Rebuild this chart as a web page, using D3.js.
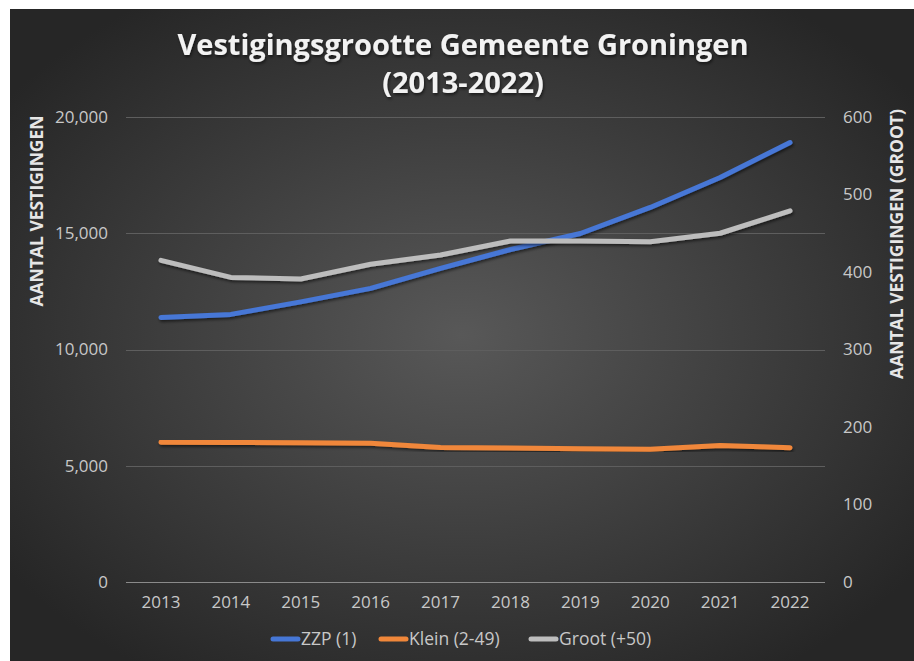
<!DOCTYPE html>
<html>
<head>
<meta charset="utf-8">
<script src="https://cdn.jsdelivr.net/npm/d3@7"></script>
<style>
  html, body { margin: 0; padding: 0; background: #ffffff; }
  svg { display: block; }
</style>
</head>
<body>
<div id="chart"></div>
<script>
// data
var years = ["2013", "2014", "2015", "2016", "2017", "2018", "2019", "2020", "2021", "2022"];
var zzp = [11380, 11510, 12050, 12630, 13490, 14300, 14990, 16110, 17400, 18900];
var klein = [6010, 6000, 5990, 5970, 5780, 5760, 5730, 5705, 5875, 5775];
var groot = [415, 393, 391, 410, 422, 440, 440, 439, 450, 479];
var leftTicks = [0, 5000, 10000, 15000, 20000];
var rightTicks = [0, 100, 200, 300, 400, 500, 600];

var width = 914, height = 661;

var svg = d3.select("#chart")
    .append("svg")
    .attr("width", width)
    .attr("height", height);

var defs = svg.append("defs");

var grad = defs.append("radialGradient")
    .attr("id", "bg")
    .attr("cx", "50%")
    .attr("cy", "50%")
    .attr("r", "62%");
grad.append("stop").attr("offset", "0%").attr("stop-color", "#585858");
grad.append("stop").attr("offset", "100%").attr("stop-color", "#262626");

var shadow = defs.append("filter")
    .attr("id", "shadow")
    .attr("x", "-10%").attr("y", "-30%")
    .attr("width", "120%").attr("height", "160%");
shadow.append("feDropShadow")
    .attr("dx", 1).attr("dy", 2)
    .attr("stdDeviation", 1.5)
    .attr("flood-color", "#000")
    .attr("flood-opacity", 0.55);

// chart background
svg.append("rect")
    .attr("x", 10)
    .attr("y", 9)
    .attr("width", width - 10)
    .attr("height", height - 9)
    .attr("fill", "url(#bg)");

var x = d3.scaleBand()
    .domain(years)
    .range([126, 825]);

var yLeft = d3.scaleLinear()
    .domain([0, 20000])
    .range([582, 117]);

var yRight = d3.scaleLinear()
    .domain([0, 600])
    .range([582, 117]);

var font = "'Open Sans', 'Noto Sans', sans-serif";

// gridlines
svg.append("g")
    .selectAll("line")
    .data(leftTicks)
    .enter().append("line")
    .attr("x1", 126)
    .attr("x2", 825)
    .attr("y1", function(d) { return Math.round(yLeft(d)) + 0.5; })
    .attr("y2", function(d) { return Math.round(yLeft(d)) + 0.5; })
    .attr("stroke", function(d) { return d === 0 ? "#8a8a8a" : "#5e5e5e"; })
    .attr("stroke-width", 1);

// left axis
var leftAxis = svg.append("g")
    .attr("transform", "translate(126,0)")
    .call(d3.axisLeft(yLeft).tickValues(leftTicks).tickFormat(d3.format(",")).tickSize(0).tickPadding(18));

// right axis
var rightAxis = svg.append("g")
    .attr("transform", "translate(825,0)")
    .call(d3.axisRight(yRight).tickValues(rightTicks).tickSize(0).tickPadding(18));

// bottom axis
var bottomAxis = svg.append("g")
    .attr("transform", "translate(0,582)")
    .call(d3.axisBottom(x).tickSize(0).tickPadding(14));

[leftAxis, rightAxis, bottomAxis].forEach(function(a) {
    a.select(".domain").remove();
    a.selectAll("text")
        .attr("fill", "#c8c8c8")
        .style("font-family", font)
        .style("font-size", "17px");
});

// axis titles
svg.append("text")
    .attr("transform", "translate(43,211) rotate(-90)")
    .attr("text-anchor", "middle")
    .style("font-family", font)
    .style("font-weight", "bold")
    .style("font-size", "17.5px")
    .attr("fill", "#e6e6e6")
    .text("AANTAL VESTIGINGEN");

svg.append("text")
    .attr("transform", "translate(903,244) rotate(-90)")
    .attr("text-anchor", "middle")
    .style("font-family", font)
    .style("font-weight", "bold")
    .style("font-size", "17.5px")
    .attr("fill", "#e6e6e6")
    .text("AANTAL VESTIGINGEN (GROOT)");

// title
var title = svg.append("text")
    .attr("text-anchor", "middle")
    .style("font-family", font)
    .style("font-weight", "bold")
    .style("font-size", "29px")
    .attr("fill", "#f2f2f2")
    .attr("filter", "url(#shadow)");
title.append("tspan").attr("x", 463).attr("y", 55).text("Vestigingsgrootte Gemeente Groningen");
title.append("tspan").attr("x", 463).attr("y", 93).text("(2013-2022)");

// lines
var series = [
    { name: "ZZP (1)", values: zzp, scale: yLeft, color: "#4677d6" },
    { name: "Klein (2-49)", values: klein, scale: yLeft, color: "#f0873a" },
    { name: "Groot (+50)", values: groot, scale: yRight, color: "#bdbdbd" }
];

series.forEach(function(s) {
    var line = d3.line()
        .x(function(d, i) { return x(years[i]) + x.bandwidth() / 2; })
        .y(function(d) { return s.scale(d); });

    svg.append("path")
        .datum(s.values)
        .attr("fill", "none")
        .attr("stroke", s.color)
        .attr("stroke-width", 5)
        .attr("stroke-linecap", "round")
        .attr("stroke-linejoin", "round")
        .attr("filter", "url(#shadow)")
        .attr("d", line);
});

// legend
var legendX = [271, 379, 529];
var legend = svg.append("g");
series.forEach(function(s, i) {
    legend.append("line")
        .attr("x1", legendX[i] + 2)
        .attr("x2", legendX[i] + 27)
        .attr("y1", 639)
        .attr("y2", 639)
        .attr("stroke", s.color)
        .attr("stroke-width", 5)
        .attr("stroke-linecap", "round");
    legend.append("text")
        .attr("x", legendX[i] + 30)
        .attr("y", 645)
        .style("font-family", font)
        .style("font-size", "17.5px")
        .attr("fill", "#c8c8c8")
        .text(s.name);
});
</script>
</body>
</html>
